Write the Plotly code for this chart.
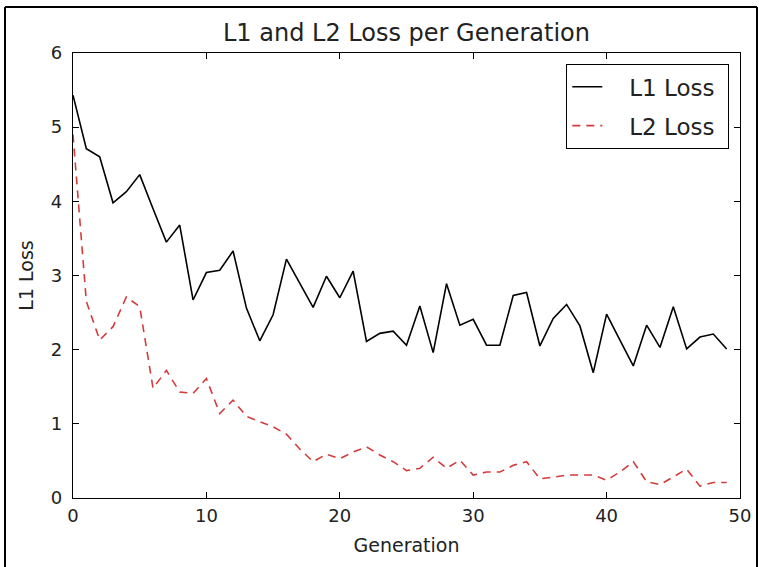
import plotly.graph_objects as go

generations = list(range(50))
l1_loss = [5.43, 4.71, 4.60, 3.98, 4.13, 4.36, 3.90, 3.45, 3.68, 2.67,
           3.04, 3.07, 3.33, 2.56, 2.12, 2.47, 3.22, 2.90, 2.57, 2.99,
           2.70, 3.06, 2.11, 2.22, 2.25, 2.06, 2.59, 1.96, 2.89, 2.33,
           2.41, 2.06, 2.06, 2.73, 2.77, 2.05, 2.42, 2.61, 2.32, 1.69,
           2.48, 2.13, 1.78, 2.33, 2.03, 2.58, 2.01, 2.17, 2.21, 2.01]
l2_loss = [4.90, 2.65, 2.13, 2.31, 2.71, 2.58, 1.48, 1.72, 1.43, 1.41,
           1.61, 1.14, 1.32, 1.10, 1.03, 0.96, 0.86, 0.66, 0.49, 0.59,
           0.53, 0.62, 0.69, 0.58, 0.49, 0.37, 0.40, 0.55, 0.40, 0.51,
           0.31, 0.35, 0.35, 0.44, 0.49, 0.26, 0.28, 0.31, 0.31, 0.31,
           0.24, 0.35, 0.49, 0.22, 0.18, 0.28, 0.39, 0.16, 0.21, 0.21]
x_ticks = [0, 10, 20, 30, 40, 50]
y_ticks = [0, 1, 2, 3, 4, 5, 6]
series_names = ["L1 Loss", "L2 Loss"]

FONT = "DejaVu Sans"
W, H = 759, 567
L, R, T, B = 73, 19, 53, 69
GAP = "\u00a0\u00a0\u00a0"
TRAIL = "\u00a0"

fig = go.Figure()
fig.add_trace(go.Scatter(x=generations, y=l1_loss, mode="lines", name=GAP + series_names[0] + TRAIL,
                         line=dict(color="black", width=1.6), legendgroup="a"))
fig.add_trace(go.Scatter(x=generations, y=l2_loss, mode="lines", name=GAP + series_names[1] + TRAIL,
                         line=dict(color="#d43c3c", width=1.6, dash="8px,6px"), legendgroup="b"))

axis_common = dict(showgrid=False, zeroline=False, showline=True, linecolor="black",
                   linewidth=1.3, mirror="allticks", ticks="inside", ticklen=6,
                   tickcolor="black", tickwidth=1, automargin=False,
                   tickfont=dict(family=FONT, size=18, color="#222"))

fig.update_layout(
    width=W, height=H,
    margin=dict(l=L, r=R, t=T, b=B, autoexpand=False),
    paper_bgcolor="white", plot_bgcolor="white",
    font=dict(family=FONT, color="#222"),
    title=dict(text="L1 and L2 Loss per Generation", x=0.5, xanchor="center",
               xref="paper", y=1 - 33 / H, yref="container", yanchor="middle",
               font=dict(family=FONT, size=24, color="#222")),
    xaxis=dict(range=[0, 50], tickvals=x_ticks, ticktext=[str(v) for v in x_ticks],
               title=dict(text="Generation", font=dict(family=FONT, size=19, color="#222"), standoff=13),
               ticklabelstandoff=1, **axis_common),
    yaxis=dict(range=[0, 6], tickvals=y_ticks, ticktext=[str(v) for v in y_ticks],
               title=dict(text="L1 Loss", font=dict(family=FONT, size=19, color="#222"), standoff=12),
               ticklabelstandoff=6, **axis_common),
    legend=dict(x=(729 - L) / (W - L - R), xanchor="right", y=1 - (64 - T) / (H - T - B), yanchor="top",
                bordercolor="black", borderwidth=1.3, bgcolor="white",
                font=dict(family=FONT, size=23, color="#222"),
                traceorder="grouped", tracegroupgap=6),
    showlegend=True,
)

# outer frame of the picture
px_x = lambda p: (p - L) / (W - L - R)
px_y = lambda p: 1 - (p - T) / (H - T - B)
fx0, fx1, fy0, fy1 = px_x(5), px_x(757), px_y(567), px_y(7)
for (a, b, c, d) in [(fx0, fx0, fy0, fy1), (fx0, fx1, fy1, fy1), (fx1, fx1, fy0, fy1)]:
    fig.add_shape(type="line", xref="paper", yref="paper", x0=a, x1=b, y0=c, y1=d,
                  line=dict(color="black", width=2))

fig.write_html("out.html", config={"displayModeBar": False},
               post_script="document.body.style.margin='0';")
